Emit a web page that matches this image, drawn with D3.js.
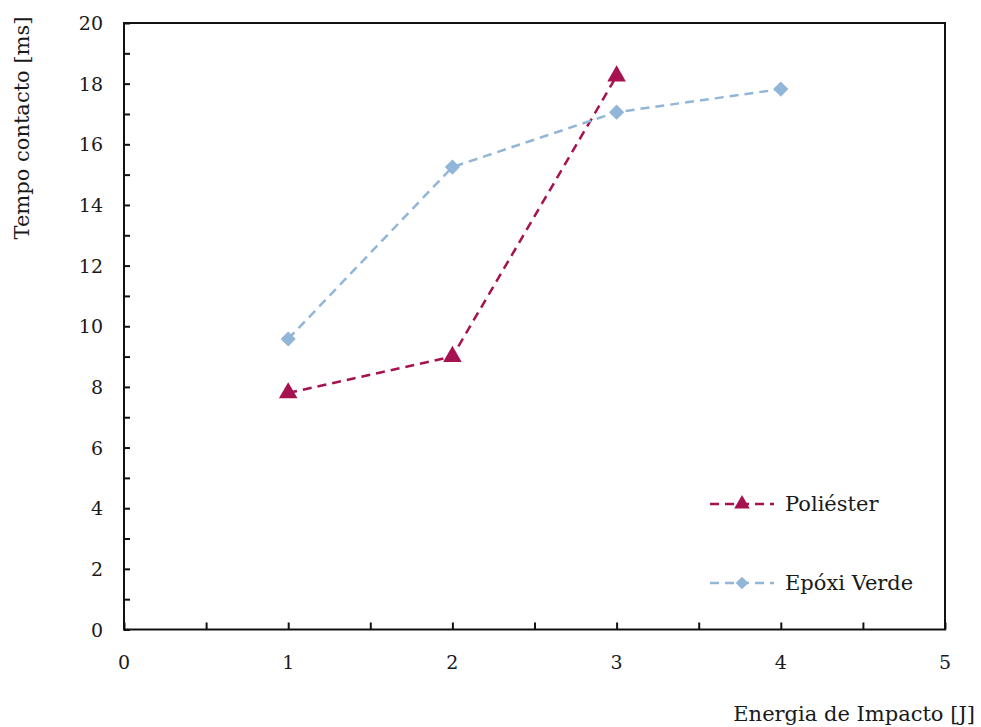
<!DOCTYPE html>
<html>
<head>
<meta charset="utf-8">
<script src="https://cdn.jsdelivr.net/npm/d3@7"></script>
<style>
  body { margin: 0; background: #fff; }
  text { font-family: "DejaVu Serif", "Liberation Serif", serif; fill: #1a1a1a; }
</style>
</head>
<body>
<svg id="chart" width="981" height="727"></svg>
<script>
// Contact time versus impact energy for two composite laminates
const energy = [1, 2, 3, 4];
const poliester = [7.8, 9.0, 18.25];
const epoxiVerde = [9.58, 15.25, 17.06, 17.82];
const xTicks = [0, 1, 2, 3, 4, 5];
const yTicks = [0, 2, 4, 6, 8, 10, 12, 14, 16, 18, 20];

const series = [
  { name: "Poliéster", values: poliester, color: "#A6114F", symbol: d3.symbolTriangle, size: 150, rotate: 0 },
  { name: "Epóxi Verde", values: epoxiVerde, color: "#92B6D7", symbol: d3.symbolSquare, size: 115, rotate: 45 }
];

const svg = d3.select("#chart");
const margin = { left: 124, right: 36, top: 23, bottom: 97.5 };
const W = 981, H = 727;

const x = d3.scaleLinear().domain([0, 5]).range([margin.left, W - margin.right]);
const y = d3.scaleLinear().domain([0, 20]).range([H - margin.bottom, margin.top]);

// Inward ticks: x every 0.5, y every 1
const xAxis = d3.axisBottom(x).tickValues(d3.range(0, 5.01, 0.5)).tickSize(-7).tickFormat("");
const yAxis = d3.axisLeft(y).tickValues(d3.range(0, 20.01, 1)).tickSize(-6).tickFormat("");

svg.append("g").attr("transform", `translate(0,${y(0)})`).call(xAxis)
  .call(g => g.select(".domain").remove())
  .selectAll("line").attr("stroke", "#111").attr("stroke-width", 2);
svg.append("g").attr("transform", `translate(${x(0)},0)`).call(yAxis)
  .call(g => g.select(".domain").remove())
  .selectAll("line").attr("stroke", "#111").attr("stroke-width", 2);

// Plot frame
svg.append("rect")
  .attr("x", x(0)).attr("y", y(20))
  .attr("width", x(5) - x(0)).attr("height", y(0) - y(20))
  .attr("fill", "none").attr("stroke", "#111").attr("stroke-width", 2);

// Tick labels
svg.append("g").selectAll("text").data(xTicks).join("text")
  .attr("x", d => x(d)).attr("y", y(0) + 39)
  .attr("text-anchor", "middle").attr("font-size", 19)
  .text(d => d);
svg.append("g").selectAll("text").data(yTicks).join("text")
  .attr("x", x(0) - 21).attr("y", d => y(d) + 7)
  .attr("text-anchor", "end").attr("font-size", 19)
  .text(d => d);

// Axis titles
svg.append("text")
  .attr("x", 975).attr("y", 721)
  .attr("text-anchor", "end").attr("font-size", 21)
  .text("Energia de Impacto [J]");
svg.append("text")
  .attr("transform", `translate(29,128) rotate(-90)`)
  .attr("text-anchor", "middle").attr("font-size", 21)
  .text("Tempo contacto [ms]");

// Series lines and markers
const line = d3.line().x((d, i) => x(energy[i])).y(d => y(d));
series.forEach(s => {
  svg.append("path").datum(s.values)
    .attr("d", line).attr("fill", "none")
    .attr("stroke", s.color).attr("stroke-width", 2.5)
    .attr("stroke-dasharray", "9,6");
  svg.append("g").selectAll("path").data(s.values).join("path")
    .attr("transform", (d, i) => `translate(${x(energy[i])},${y(d)}) rotate(${s.rotate})`)
    .attr("d", d3.symbol().type(s.symbol).size(s.size))
    .attr("fill", s.color);
});

// Legend
const legendY = [504, 583];
series.forEach((s, i) => {
  const g = svg.append("g").attr("transform", `translate(0,${legendY[i]})`);
  g.append("line").attr("x1", 710).attr("x2", 774).attr("y1", 0).attr("y2", 0)
    .attr("stroke", s.color).attr("stroke-width", 2.5).attr("stroke-dasharray", "9,6");
  g.append("path").attr("transform", `translate(742,0) rotate(${s.rotate})`)
    .attr("d", d3.symbol().type(s.symbol).size(s.size * 0.7)).attr("fill", s.color);
  g.append("text").attr("x", 785).attr("y", 7).attr("font-size", 21).text(s.name);
});
</script>
</body>
</html>
